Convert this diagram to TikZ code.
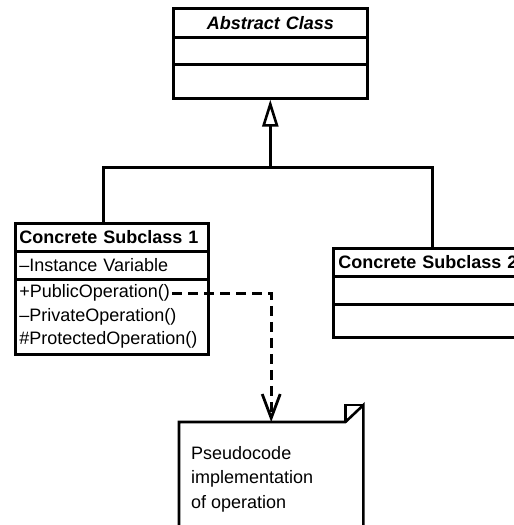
\documentclass[tikz,border=0pt]{standalone}
\usepackage{fontspec}
\setmainfont{Liberation Sans}
\usetikzlibrary{arrows.meta}
\begin{document}
\begin{tikzpicture}[x=1pt,y=-1pt,
  comp/.style={draw, line width=2.6pt, rectangle, inner xsep=4pt, inner ysep=0pt,
    anchor=north west, align=left, font=\fontsize{18}{23.5}\selectfont},
  conn/.style={line width=3pt},
  ttl/.style={font=\fontsize{18}{23.5}\selectfont\bfseries},
  dashconn/.style={line width=3pt, dash pattern=on 10pt off 6pt},
  ]
\clip (0,0) rectangle (514,525);
% Abstract class
\node[comp, text width=186pt, minimum height=29pt, align=center,
  font=\fontsize{18}{23.5}\selectfont\bfseries\itshape] (abst) at (172,7) {Abstract Class};
\node[comp, text width=186pt, minimum height=27pt] (absa) at (172,36) {};
\node[comp, text width=186pt, minimum height=34pt] (abso) at (172,63) {};
% Concrete subclass 1
\node[comp, ttl, text width=185pt, minimum height=28pt] (s1t) at (14,222) {Concrete Subclass 1};
\node[comp, text width=185pt, minimum height=28pt] (s1a) at (14,250) {–Instance Variable};
\node[comp, text width=185pt, minimum height=75pt] (s1o) at (14,278)
  {+PublicOperation()\\–PrivateOperation()\\\#ProtectedOperation()};
% Concrete subclass 2
\node[comp, ttl, inner xsep=5pt, text width=218pt, minimum height=28pt] (s2t) at (332,247) {Concrete Subclass 2};
\node[comp, inner xsep=5pt, text width=218pt, minimum height=28pt] (s2a) at (332,275) {};
\node[comp, inner xsep=5pt, text width=218pt, minimum height=33pt] (s2o) at (332,303) {};
% Note
\node[minimum width=184pt, minimum height=140pt, inner sep=0pt, anchor=north west] (note) at (179,422) {};
\draw[line width=2.6pt, line join=miter]
  (note.south west) -- (note.north west) -- ([xshift=-18pt]note.north east)
  -- ([yshift=17pt]note.north east) -- (note.south east);
\draw[line width=2.6pt, line join=miter]
  ([xshift=-18pt]note.north east) -- ([xshift=-18pt,yshift=17pt]note.north east)
  -- ([yshift=17pt]note.north east);
\node[anchor=north west, align=left, inner sep=0pt,
  font=\fontsize{18}{24.5}\selectfont] (notetext) at (191,446)
  {Pseudocode\\implementation\\of operation};
% Inheritance
\coordinate (j) at (abso.south |- 0,167);
\draw[conn, line join=miter] ([xshift=89pt]s1t.north west) |- ([xshift=100pt]s2t.north west |- j)
  -- ([xshift=100pt]s2t.north west);
\draw[conn, -{Triangle[open, length=27pt, width=16pt, line width=2.6pt]}] (j) -- (abso.south);
% Dependency
\coordinate (pubend) at (172,293);
\draw[dashconn, -{Straight Barb[length=24pt, width=18pt, line width=2.8pt]}] (pubend) -| (note.north);
\end{tikzpicture}
\end{document}
